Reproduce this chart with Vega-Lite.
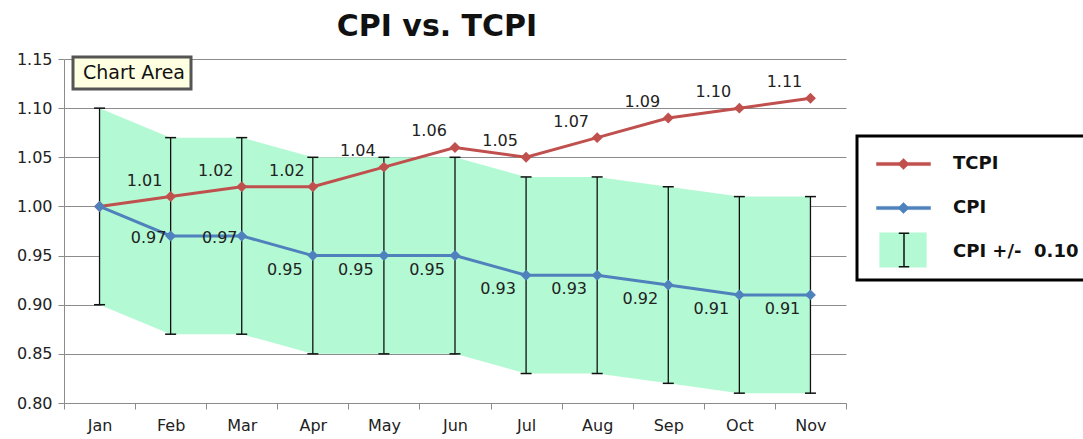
{
  "$schema": "https://vega.github.io/schema/vega-lite/v6.json",
  "autosize": {"type": "none"},
  "padding": {"left": 64, "top": 59, "right": 237, "bottom": 36},
  "width": 782,
  "height": 344,
  "background": "white",
  "title": {
    "text": "CPI vs. TCPI",
    "font": "DejaVu Sans",
    "fontSize": 30,
    "fontWeight": "bold",
    "color": "#111",
    "anchor": "middle",
    "dx": -18,
    "offset": 9
  },
  "config": {
    "view": {"stroke": null},
    "font": "DejaVu Sans",
    "legend": {"strokeWidth": 3}
  },
  "datasets": {
    "band": [
      {"month": "Jan", "lo": 0.90, "hi": 1.10, "band": "CPI +/-  0.10", "note": "Chart Area"},
      {"month": "Feb", "lo": 0.87, "hi": 1.07, "band": "CPI +/-  0.10", "note": "Chart Area"},
      {"month": "Mar", "lo": 0.87, "hi": 1.07, "band": "CPI +/-  0.10", "note": "Chart Area"},
      {"month": "Apr", "lo": 0.85, "hi": 1.05, "band": "CPI +/-  0.10", "note": "Chart Area"},
      {"month": "May", "lo": 0.85, "hi": 1.05, "band": "CPI +/-  0.10", "note": "Chart Area"},
      {"month": "Jun", "lo": 0.85, "hi": 1.05, "band": "CPI +/-  0.10", "note": "Chart Area"},
      {"month": "Jul", "lo": 0.83, "hi": 1.03, "band": "CPI +/-  0.10", "note": "Chart Area"},
      {"month": "Aug", "lo": 0.83, "hi": 1.03, "band": "CPI +/-  0.10", "note": "Chart Area"},
      {"month": "Sep", "lo": 0.82, "hi": 1.02, "band": "CPI +/-  0.10", "note": "Chart Area"},
      {"month": "Oct", "lo": 0.81, "hi": 1.01, "band": "CPI +/-  0.10", "note": "Chart Area"},
      {"month": "Nov", "lo": 0.81, "hi": 1.01, "band": "CPI +/-  0.10", "note": "Chart Area"}
    ],
    "series": [
      {"month": "Jan", "series": "TCPI", "value": 1.00},
      {"month": "Feb", "series": "TCPI", "value": 1.01},
      {"month": "Mar", "series": "TCPI", "value": 1.02},
      {"month": "Apr", "series": "TCPI", "value": 1.02},
      {"month": "May", "series": "TCPI", "value": 1.04},
      {"month": "Jun", "series": "TCPI", "value": 1.06},
      {"month": "Jul", "series": "TCPI", "value": 1.05},
      {"month": "Aug", "series": "TCPI", "value": 1.07},
      {"month": "Sep", "series": "TCPI", "value": 1.09},
      {"month": "Oct", "series": "TCPI", "value": 1.10},
      {"month": "Nov", "series": "TCPI", "value": 1.11},
      {"month": "Jan", "series": "CPI", "value": 1.00},
      {"month": "Feb", "series": "CPI", "value": 0.97},
      {"month": "Mar", "series": "CPI", "value": 0.97},
      {"month": "Apr", "series": "CPI", "value": 0.95},
      {"month": "May", "series": "CPI", "value": 0.95},
      {"month": "Jun", "series": "CPI", "value": 0.95},
      {"month": "Jul", "series": "CPI", "value": 0.93},
      {"month": "Aug", "series": "CPI", "value": 0.93},
      {"month": "Sep", "series": "CPI", "value": 0.92},
      {"month": "Oct", "series": "CPI", "value": 0.91},
      {"month": "Nov", "series": "CPI", "value": 0.91}
    ]
  },
  "encoding": {
    "x": {
      "field": "month",
      "type": "ordinal",
      "sort": ["Jan","Feb","Mar","Apr","May","Jun","Jul","Aug","Sep","Oct","Nov"],
      "scale": {"type": "band", "paddingInner": 0, "paddingOuter": 0},
      "axis": {
        "title": null,
        "labelAngle": 0,
        "labelFont": "DejaVu Sans",
        "labelFontSize": 16,
        "labelColor": "#222",
        "labelPadding": 8,
        "tickBand": "extent",
        "tickSize": 6,
        "tickColor": "#8c8c8c",
        "domainColor": "#8c8c8c",
        "grid": false
      }
    }
  },
  "layer": [
    {
      "data": {"name": "band"},
      "mark": {"type": "area", "opacity": 1},
      "encoding": {
        "y": {
          "field": "lo",
          "type": "quantitative",
          "scale": {"domain": [0.8, 1.15], "nice": false, "zero": false},
          "axis": {
            "title": null,
            "values": [0.8, 0.85, 0.9, 0.95, 1.0, 1.05, 1.1, 1.15],
            "format": ".2f",
            "labelFont": "DejaVu Sans",
            "labelFontSize": 16,
            "labelColor": "#222",
            "labelPadding": 6,
            "tickSize": 6,
            "tickColor": "#8c8c8c",
            "domainColor": "#8c8c8c",
            "grid": true,
            "gridColor": "#8c8c8c",
            "gridWidth": 1
          }
        },
        "y2": {"field": "hi"},
        "fill": {
          "field": "band",
          "type": "nominal",
          "scale": {"range": ["#b3f9d3"]},
          "legend": {
            "title": null,
            "orient": "none",
            "legendX": 799,
            "legendY": 169,
            "padding": 0,
            "clipHeight": 44,
            "symbolSize": 6400,
            "symbolType": "M-0.59,-0.44H0.59V0.44H-0.59Z",
            "symbolStrokeWidth": 0,
            "symbolOpacity": 1,
            "labelExpr": "''"
          }
        },
        "opacity": {
          "field": "note",
          "type": "nominal",
          "scale": {"range": [1]},
          "legend": {
            "title": null,
            "orient": "none",
            "legendX": 9,
            "legendY": -2,
            "padding": 6,
            "symbolSize": 0.01,
            "symbolOpacity": 0,
            "labelOffset": -15,
            "labelFont": "DejaVu Sans",
            "labelFontSize": 19,
            "labelColor": "#111",
            "fillColor": "#ffffe1",
            "strokeColor": "#555"
          }
        }
      }
    },
    {
      "data": {"name": "band"},
      "mark": {"type": "rule", "color": "#111", "strokeWidth": 1.3},
      "encoding": {
        "y": {"field": "lo", "type": "quantitative"},
        "y2": {"field": "hi"},
        "strokeDash": {
          "field": "band",
          "type": "nominal",
          "scale": {"range": [[1, 0]]},
          "legend": {
            "title": null,
            "orient": "none",
            "legendX": 799,
            "legendY": 169,
            "padding": 0,
            "clipHeight": 44,
            "symbolSize": 6400,
            "symbolType": "M-0.13,-0.42H0.13M0,-0.42V0.42M-0.13,0.42H0.13",
            "symbolStrokeColor": "#111",
            "symbolStrokeWidth": 1.5,
            "symbolFillColor": "transparent",
            "symbolOpacity": 1,
            "labelExpr": "''"
          }
        }
      }
    },
    {
      "data": {"name": "band"},
      "mark": {"type": "tick", "color": "#111", "size": 11, "thickness": 1.5, "opacity": 1},
      "encoding": {"y": {"field": "lo", "type": "quantitative"}}
    },
    {
      "data": {"name": "band"},
      "mark": {"type": "tick", "color": "#111", "size": 11, "thickness": 1.5, "opacity": 1},
      "encoding": {"y": {"field": "hi", "type": "quantitative"}}
    },
    {
      "data": {"name": "series"},
      "mark": {"type": "line", "strokeWidth": 3},
      "encoding": {
        "y": {"field": "value", "type": "quantitative"},
        "color": {
          "field": "series",
          "type": "nominal",
          "scale": {
            "domain": ["TCPI", "CPI", "CPI +/-\u00a0 0.10"],
            "range": ["#c0504d", "#4f81bd", "transparent"]
          },
          "legend": {
            "title": null,
            "orient": "none",
            "legendX": 793,
            "legendY": 77,
            "padding": 6,
            "clipHeight": 44,
            "rowPadding": 0,
            "symbolSize": 6400,
            "symbolType": "M-0.675,-0.04H0.675V0.04H-0.675Z M-0.14,0L0,-0.14L0.14,0L0,0.14Z",
            "symbolStrokeWidth": 0.5,
            "symbolOpacity": 1,
            "labelOffset": 9,
            "labelFont": "DejaVu Sans",
            "labelFontSize": 18,
            "labelFontWeight": "bold",
            "labelColor": "#111",
            "labelLimit": 300,
            "strokeColor": "black"
          }
        }
      }
    },
    {
      "data": {"name": "series"},
      "mark": {"type": "point", "shape": "diamond", "filled": true, "size": 120, "opacity": 1},
      "encoding": {
        "y": {"field": "value", "type": "quantitative"},
        "color": {"field": "series", "type": "nominal"}
      }
    },
    {
      "data": {"name": "series"},
      "transform": [{"filter": "datum.series === 'TCPI' && datum.month !== 'Jan'"}],
      "mark": {"type": "text", "dx": -26, "dy": -16, "font": "DejaVu Sans", "fontSize": 16, "color": "#222"},
      "encoding": {
        "y": {"field": "value", "type": "quantitative"},
        "text": {"field": "value", "type": "quantitative", "format": ".2f"}
      }
    },
    {
      "data": {"name": "series"},
      "transform": [{"filter": "datum.series === 'CPI' && (datum.month === 'Feb' || datum.month === 'Mar')"}],
      "mark": {"type": "text", "dx": -22, "dy": 2, "font": "DejaVu Sans", "fontSize": 16, "color": "#222"},
      "encoding": {
        "y": {"field": "value", "type": "quantitative"},
        "text": {"field": "value", "type": "quantitative", "format": ".2f"}
      }
    },
    {
      "data": {"name": "series"},
      "transform": [{"filter": "datum.series === 'CPI' && datum.month !== 'Jan' && datum.month !== 'Feb' && datum.month !== 'Mar'"}],
      "mark": {"type": "text", "dx": -28, "dy": 14, "font": "DejaVu Sans", "fontSize": 16, "color": "#222"},
      "encoding": {
        "y": {"field": "value", "type": "quantitative"},
        "text": {"field": "value", "type": "quantitative", "format": ".2f"}
      }
    }
  ]
}
